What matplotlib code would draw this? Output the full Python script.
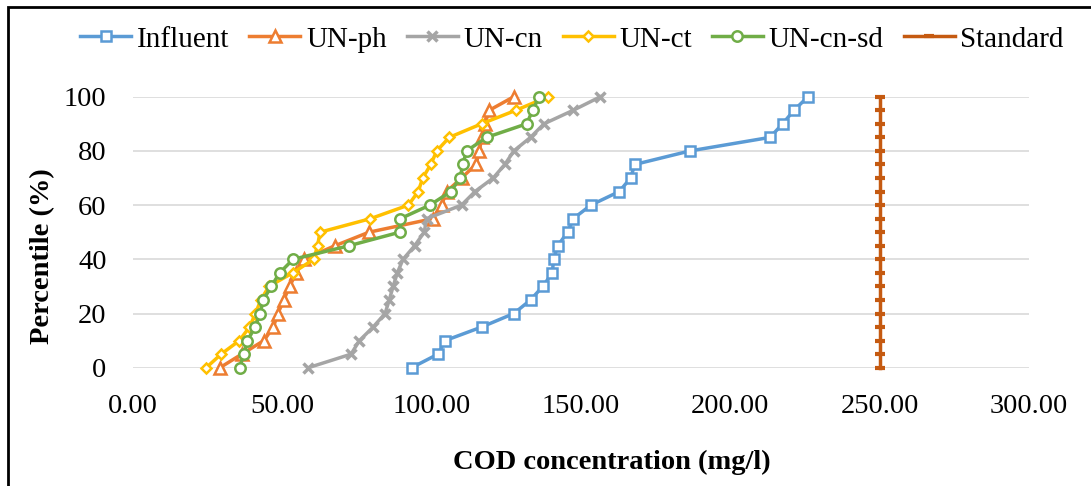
import matplotlib
matplotlib.use('Agg')
import matplotlib.pyplot as plt
from matplotlib.patches import Rectangle

plt.rcParams['font.family'] = ['Liberation Serif', 'DejaVu Serif']

percentile = [0, 5, 10, 15, 20, 25, 30, 35, 40, 45, 50, 55, 60, 65, 70, 75, 80, 85, 90, 95, 100]

influent = [93.3, 102.1, 104.5, 116.7, 127.5, 133.1, 137.2, 140.4, 140.8, 142.2, 145.5,
            147.4, 153.3, 162.8, 166.6, 168.0, 186.5, 213.3, 217.5, 221.3, 226.0]
un_ph = [29.1, 36.4, 43.8, 47.0, 48.5, 50.5, 52.4, 54.7, 57.1, 67.6, 79.0,
         100.4, 103.3, 105.0, 110.0, 114.8, 116.0, 116.7, 117.8, 119.3, 127.5]
un_cn = [58.7, 73.0, 75.8, 80.4, 84.4, 85.8, 87.1, 88.5, 90.4, 94.3, 97.5,
         98.3, 110.0, 114.5, 120.6, 124.5, 127.5, 133.1, 137.6, 147.4, 156.5]
un_ct = [24.5, 29.5, 35.6, 39.0, 41.0, 42.8, 45.5, 53.5, 60.5, 61.8, 62.6,
         79.5, 92.2, 95.5, 97.0, 99.7, 101.7, 105.9, 116.7, 128.2, 139.0]
un_cn_sd = [35.7, 37.1, 38.3, 40.9, 42.6, 43.6, 46.3, 49.1, 53.6, 72.3, 89.3,
            89.5, 99.4, 106.4, 109.5, 110.4, 111.7, 118.4, 131.8, 133.8, 136.0]
standard = [250, 250, 250, 250, 250, 250, 250, 250, 250, 250, 250,
            250, 250, 250, 250, 250, 250, 250, 250, 250, 250]

x_ticks = [0, 50, 100, 150, 200, 250, 300]
y_ticks = [0, 20, 40, 60, 80, 100]

fig = plt.figure(figsize=(10.91, 4.86), dpi=100)
ax = fig.add_axes([0.1219, 0.2434, 0.8213, 0.5576])

lw = 2.5
ax.plot(influent, percentile, color='#5B9BD5', lw=lw, marker='s', ms=7, mew=1.8,
        mfc='white', label='Influent', clip_on=False, zorder=3)
ax.plot(un_ph, percentile, color='#ED7D31', lw=lw, marker='^', ms=8, mew=1.8,
        mfc='white', label='UN-ph', clip_on=False, zorder=3)
ax.plot(un_cn, percentile, color='#A5A5A5', lw=lw, marker='x', ms=7, mew=2.5,
        label='UN-cn', clip_on=False, zorder=3)
ax.plot(un_ct, percentile, color='#FFC000', lw=lw, marker='D', ms=5.5, mew=1.8,
        mfc='white', label='UN-ct', clip_on=False, zorder=3)
ax.plot(un_cn_sd, percentile, color='#70AD47', lw=lw, marker='o', ms=7.5, mew=1.8,
        mfc='white', label='UN-cn-sd', clip_on=False, zorder=3)
ax.plot(standard, percentile, color='#C55A11', lw=lw, marker='_', ms=7, mew=3,
        label='Standard', clip_on=False, zorder=3)

ax.set_xlim(0, 300)
ax.set_ylim(0, 100)
ax.set_xticks(x_ticks)
ax.set_xticklabels(['{:.2f}'.format(v) for v in x_ticks])
ax.set_yticks(y_ticks)
ax.tick_params(axis='both', length=0, labelsize=20.5, pad=19)
ax.grid(axis='y', color='#D9D9D9', lw=1.2)
ax.set_axisbelow(True)
for s in ax.spines.values():
    s.set_visible(False)

fig.text(612 / 1091, 1 - 462 / 486, 'COD concentration (mg/l)', ha='center', va='center',
         fontsize=20.5, fontweight='bold')
fig.text(43 / 1091, 1 - 256 / 486, 'Percentile (%)', ha='center', va='center',
         rotation=90, fontsize=20.5, fontweight='bold')

ax.legend(loc='center', bbox_to_anchor=(572 / 1091, 1 - 39.3 / 486),
          bbox_transform=fig.transFigure, ncol=6, frameon=False, fontsize=21,
          handlelength=1.75, handletextpad=0.2, columnspacing=0.68, borderpad=0)

fig.patches.append(Rectangle((8 / 1091, -0.1), 1.2, 1.1 - 7 / 486, transform=fig.transFigure,
                             fill=False, edgecolor='black', lw=2))

fig.savefig('out.png', dpi=100)
